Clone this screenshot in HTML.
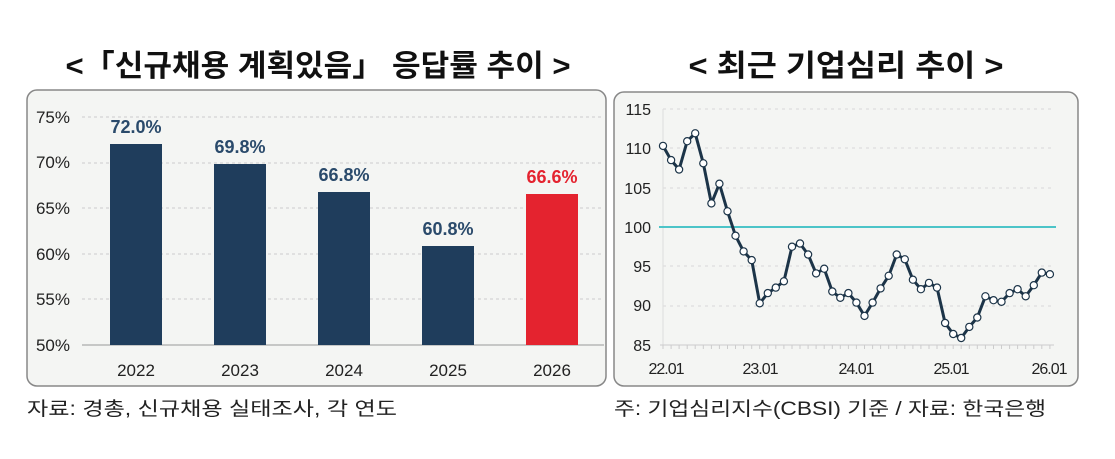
<!DOCTYPE html>
<html><head><meta charset="utf-8">
<style>
html,body{margin:0;padding:0;background:#fff;width:1115px;height:459px;overflow:hidden}
svg text{font-family:"Liberation Sans","Noto Sans CJK KR",sans-serif}
</style></head><body>
<svg id="s" width="1115" height="459" viewBox="0 0 1115 459" xmlns="http://www.w3.org/2000/svg">
<text x="318" y="76" font-size="30" font-weight="bold" text-anchor="middle" fill="#111" textLength="505" lengthAdjust="spacingAndGlyphs">&lt;「신규채용 계획있음」 응답률 추이 &gt;</text>
<text x="846" y="76" font-size="30" font-weight="bold" text-anchor="middle" fill="#111" textLength="315" lengthAdjust="spacingAndGlyphs">&lt; 최근 기업심리 추이 &gt;</text>
<rect x="27" y="90" width="579" height="296" rx="10" fill="#f4f5f3" stroke="#888" stroke-width="1.5"/>
<rect x="614" y="92" width="464" height="294" rx="10" fill="#f4f5f3" stroke="#888" stroke-width="1.5"/>
<g font-size="17" fill="#222" text-anchor="end">
<text x="70" y="123">75%</text><text x="70" y="168">70%</text><text x="70" y="214">65%</text>
<text x="70" y="260">60%</text><text x="70" y="305">55%</text><text x="70" y="351">50%</text>
</g>
<g stroke="#ccc" stroke-dasharray="3,3">
<line x1="82" y1="117" x2="604" y2="117"/><line x1="82" y1="163" x2="604" y2="163"/>
<line x1="82" y1="208" x2="604" y2="208"/><line x1="82" y1="254" x2="604" y2="254"/>
<line x1="82" y1="299" x2="604" y2="299"/>
</g>
<line x1="82" y1="345" x2="604" y2="345" stroke="#999"/>
<g fill="#1f3d5c">
<rect x="110" y="144" width="52" height="201"/>
<rect x="214" y="164" width="52" height="181"/>
<rect x="318" y="192" width="52" height="153"/>
<rect x="422" y="246" width="52" height="99"/>
</g>
<rect x="526" y="194" width="52" height="151" fill="#e4232f"/>
<g font-size="18" font-weight="bold" text-anchor="middle" fill="#2a4a6b">
<text x="136" y="133">72.0%</text><text x="240" y="153">69.8%</text>
<text x="344" y="181">66.8%</text><text x="448" y="235">60.8%</text>
<text x="552" y="183" fill="#e4232f">66.6%</text>
</g>
<g font-size="17" text-anchor="middle" fill="#222">
<text x="136" y="376">2022</text><text x="240" y="376">2023</text><text x="344" y="376">2024</text>
<text x="448" y="376">2025</text><text x="552" y="376">2026</text>
</g>
<text x="27" y="415" font-size="19" fill="#222" textLength="370" lengthAdjust="spacingAndGlyphs">자료: 경총, 신규채용 실태조사, 각 연도</text>
<text x="614" y="415" font-size="19" fill="#222" textLength="432" lengthAdjust="spacingAndGlyphs">주: 기업심리지수(CBSI) 기준 / 자료: 한국은행</text>
<g font-size="16" fill="#222" text-anchor="end">
<text x="651" y="115">115</text><text x="651" y="154">110</text><text x="651" y="194">105</text>
<text x="651" y="233">100</text><text x="651" y="272">95</text><text x="651" y="311">90</text><text x="651" y="351">85</text>
</g>
<g stroke="#d8d8d8" stroke-dasharray="3,4">
<line x1="663" y1="109" x2="1054" y2="109"/><line x1="663" y1="148" x2="1054" y2="148"/>
<line x1="663" y1="188" x2="1054" y2="188"/><line x1="663" y1="266" x2="1054" y2="266"/>
<line x1="663" y1="306" x2="1054" y2="306"/>
</g>
<line x1="663" y1="109" x2="663" y2="345" stroke="#ddd"/>
<line x1="660" y1="345" x2="1054" y2="345" stroke="#ccc"/>
<line x1="659" y1="227" x2="1056" y2="227" stroke="#4cc4c8" stroke-width="2"/>
<g font-size="16" fill="#222" text-anchor="middle" letter-spacing="-1">
<text x="666" y="374">22.01</text><text x="760" y="374">23.01</text><text x="856" y="374">24.01</text>
<text x="951" y="374">25.01</text><text x="1049" y="374">26.01</text>
</g>
<g id="ln"></g>
</svg>
<script>
var v=[110.3,108.5,107.3,110.9,111.9,108.1,103.0,105.5,102.0,98.9,96.9,95.8,90.3,91.6,92.3,93.1,97.5,97.9,96.5,94.1,94.7,91.8,91.0,91.6,90.4,88.7,90.4,92.2,93.8,96.5,95.9,93.3,92.1,92.9,92.3,87.8,86.4,85.9,87.3,88.5,91.2,90.7,90.5,91.6,92.1,91.2,92.6,94.2,94.0];
var g=document.getElementById('ln'),pts=[],h='';
for(var i=0;i<v.length;i++){var x=663+i*8.06,y=227-(v[i]-100)*7.87;pts.push(x.toFixed(1)+','+y.toFixed(1));
h+='<line x1="'+x.toFixed(1)+'" y1="345" x2="'+x.toFixed(1)+'" y2="349" stroke="#ccc"/>';}
h+='<polyline points="'+pts.join(' ')+'" fill="none" stroke="#1c3448" stroke-width="3" stroke-linejoin="round"/>';
for(var i=0;i<pts.length;i++){var p=pts[i].split(',');h+='<circle cx="'+p[0]+'" cy="'+p[1]+'" r="3.6" fill="#fff" stroke="#1c3448" stroke-width="1.2"/>';}
g.innerHTML=h;
</script>
</body></html>
